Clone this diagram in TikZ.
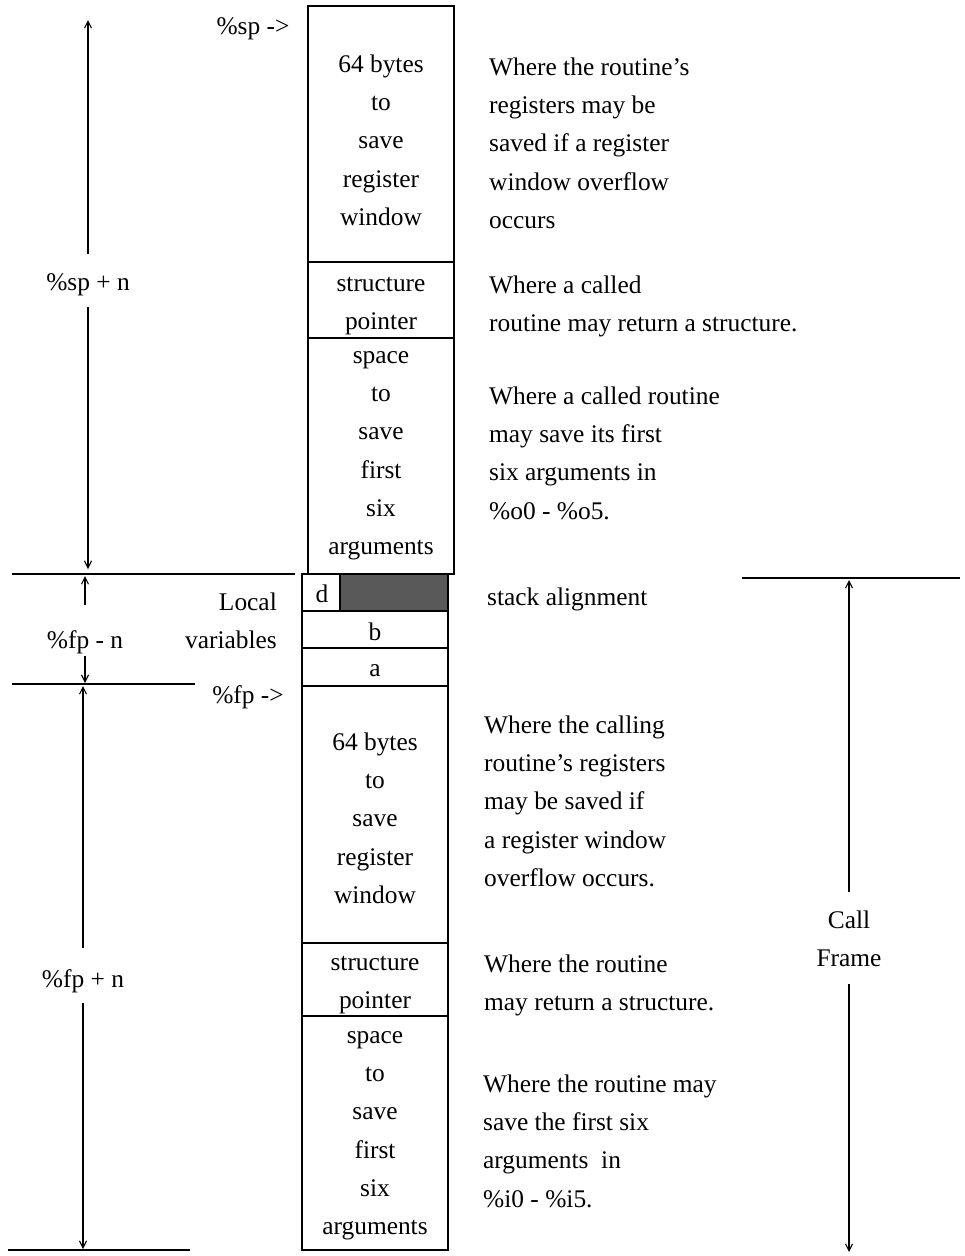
\documentclass[tikz,border=0pt]{standalone}
\usepackage{fontspec}
\setmainfont{Liberation Serif}
\usetikzlibrary{arrows.meta}
% strut-bounded text block, so that the first baseline sits a fixed distance below the top
\newcommand{\blk}[1]{\strut#1\strut}
\begin{document}
\begin{tikzpicture}[x=1pt,y=-1pt,
  every node/.style={font=\fontsize{25.4}{38.3}\selectfont, inner sep=0pt},
  cell/.style={align=center, anchor=north},
  note/.style={align=left, anchor=north west},
  tag/.style={anchor=base},
  wall/.style={line width=1.3pt},
  rule/.style={line width=1.8pt},
  dim/.style={line width=1.1pt, -{Straight Barb[length=7pt,width=7pt]}},
]
\useasboundingbox (0,0) rectangle (965,1256);

% ---- stack of the called routine (upper frame) ----
\draw[wall] (308,6) rectangle (454,574);
\draw[wall] (308,262) -- (454,262);
\draw[wall] (308,338) -- (454,338);

% ---- local variables ----
\fill[black!65] (340,574) rectangle (448,611);
\draw[wall] (302,574) rectangle (448,686);
\draw[wall] (340,574) -- (340,611);
\draw[wall] (302,611) -- (448,611);
\draw[wall] (302,648) -- (448,648);

% ---- calling routine's frame (lower) ----
\draw[wall] (302,686) rectangle (448,1250);
\draw[wall] (302,943) -- (448,943);
\draw[wall] (302,1016) -- (448,1016);

% ---- cell texts ----
\node[cell] (winU) at (381,45.2) {\blk{64 bytes\\to\\save\\register\\window}};
\node[cell] (ptrU) at (381,264.2) {\blk{structure\\pointer}};
\node[cell] (argU) at (381,336.2) {\blk{space\\to\\save\\first\\six\\arguments}};
\node[tag] (vd) at (322,602) {d};
\node[tag] (vb) at (375,640) {b};
\node[tag] (va) at (375,676) {a};
\node[cell] (winL) at (375,723.2) {\blk{64 bytes\\to\\save\\register\\window}};
\node[cell] (ptrL) at (375,943.2) {\blk{structure\\pointer}};
\node[cell] (argL) at (375,1016.2) {\blk{space\\to\\save\\first\\six\\arguments}};

% ---- descriptions ----
\node[note] (dA) at (489,48.2) {\blk{Where the routine's\\registers may be\\saved if a register\\window overflow\\occurs}};
\node[note] (dB) at (489,266.2) {\blk{Where a called\\routine may return a structure.}};
\node[note] (dC) at (489,377.2) {\blk{Where a called routine\\may save its first\\six arguments in\\\%o0 - \%o5.}};
\node[tag, anchor=base west] (dD) at (487,605) {stack alignment};
\node[note] (dE) at (484,706.2) {\blk{Where the calling\\routine's registers\\may be saved if\\a register window\\overflow occurs.}};
\node[note] (dF) at (484,945.2) {\blk{Where the routine\\may return a structure.}};
\node[note] (dG) at (483,1065.2) {\blk{Where the routine may\\save the first six\\arguments~~in\\\%i0 - \%i5.}};

% ---- pointer labels ----
\node[tag] (sp) at (253,34) {\%sp ->};
\node[tag] (fp) at (248,703) {\%fp ->};
\node[align=right, anchor=north east] (loc) at (277,583.2) {\blk{Local\\variables}};

% ---- horizontal rules ----
\coordinate (r1a) at (12,574);  \coordinate (r1b) at (295,574);
\coordinate (r2a) at (12,684);  \coordinate (r2b) at (195,684);
\coordinate (r3a) at (8,1250);  \coordinate (r3b) at (190,1250);
\coordinate (r4a) at (742,578); \coordinate (r4b) at (960,578);
\draw[rule] (r1a) -- (r1b);
\draw[rule] (r2a) -- (r2b);
\draw[rule] (r3a) -- (r3b);
\draw[rule] (r4a) -- (r4b);

% ---- extent arrows ----
\node[tag] (spn) at (88,290) {\%sp + n};
\coordinate (spTop) at (88,20);
\coordinate (spBot) at (88,569);
\draw[dim, shorten <=19pt] (spn.north) -- (spTop);
\draw[dim, shorten <=11pt] (spn.south) -- (spBot);

\node[tag] (fpm) at (85,648) {\%fp - n};
\coordinate (fmTop) at (85,576);
\coordinate (fmBot) at (85,683);
\draw[dim, shorten <=25pt] (fpm.north) -- (fmTop);
\draw[dim, shorten <=2pt] (fpm.south) -- (fmBot);

\node[tag] (fpp) at (83,987) {\%fp + n};
\coordinate (fpTop) at (83,686);
\coordinate (fpBot) at (83,1249);
\draw[dim, shorten <=21pt] (fpp.north) -- (fpTop);
\draw[dim, shorten <=10pt] (fpp.south) -- (fpBot);

\node[align=center, anchor=north] (cf) at (849,901.2) {\blk{Call\\Frame}};
\coordinate (cfTop) at (849,580);
\coordinate (cfBot) at (849,1252);
\draw[dim, shorten <=9pt] (cf.north) -- (cfTop);
\draw[dim, shorten <=6pt] (cf.south) -- (cfBot);
\end{tikzpicture}
\end{document}
